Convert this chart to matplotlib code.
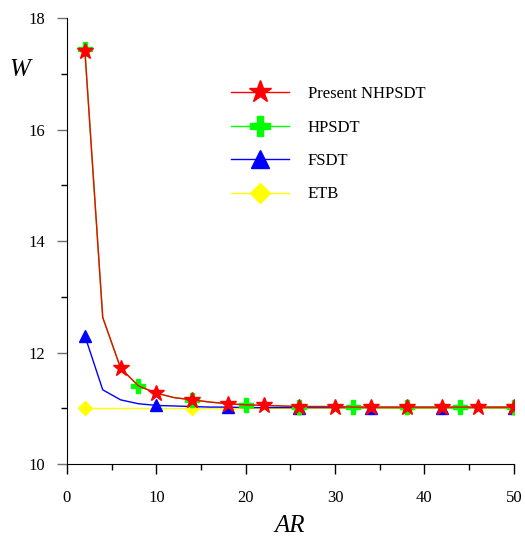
import matplotlib
matplotlib.use("Agg")
import matplotlib.pyplot as plt
from matplotlib.ticker import MultipleLocator

plt.rcParams['font.family'] = ['Liberation Serif', 'DejaVu Serif']

AR = [2, 4, 6, 8, 10, 12, 14, 16, 18, 20, 22, 24, 26, 28, 30, 32, 34, 36, 38, 40, 42, 44, 46, 48, 50]
W_nhpsdt = [17.42, 12.63, 11.72, 11.40, 11.27, 11.19, 11.15, 11.11, 11.08, 11.06, 11.05, 11.04, 11.03,
            11.03, 11.03, 11.02, 11.02, 11.02, 11.02, 11.02, 11.02, 11.02, 11.02, 11.02, 11.02]
W_hpsdt = [17.44, 12.63, 11.72, 11.40, 11.27, 11.19, 11.15, 11.11, 11.08, 11.06, 11.05, 11.04, 11.03,
           11.03, 11.03, 11.02, 11.02, 11.02, 11.02, 11.02, 11.02, 11.02, 11.02, 11.02, 11.02]
W_fsdt = [12.30, 11.33, 11.15, 11.08, 11.05, 11.04, 11.03, 11.02, 11.02, 11.01, 11.01, 11.01, 11.01,
          11.01, 11.01, 11.01, 11.01, 11.01, 11.01, 11.01, 11.01, 11.01, 11.01, 11.01, 11.01]
W_etb = [11.0] * 25
labels = ["Present NHPSDT", "HPSDT", "FSDT", "ETB"]

fig = plt.figure(figsize=(5.25, 5.36), dpi=100)
ax = fig.add_axes([0.1276, 0.1345, 0.851, 0.8314])

h_etb, = ax.plot(AR, W_etb, color='#ffff00', lw=1, marker='D', ms=7.5, markevery=6, label=labels[3], zorder=2)
h_fsdt, = ax.plot(AR, W_fsdt, color='#0000ff', lw=1, marker='^', ms=9, markevery=4, label=labels[2], zorder=3)
h_hp, = ax.plot(AR, W_hpsdt, color='#00ff00', lw=1, marker='P', ms=10, markevery=3, label=labels[1], zorder=4)
h_nh, = ax.plot(AR, W_nhpsdt, color='#ff0000', lw=1, marker='*', ms=12, markevery=2, label=labels[0], zorder=5)

ax.set_xlim(0, 50)
ax.set_ylim(10, 18)
ax.xaxis.set_major_locator(MultipleLocator(10))
ax.xaxis.set_minor_locator(MultipleLocator(5))
ax.yaxis.set_major_locator(MultipleLocator(2))
ax.yaxis.set_minor_locator(MultipleLocator(1))
for s in ['top', 'right']:
    ax.spines[s].set_visible(False)
ax.tick_params(which='major', length=7.5, width=1, labelsize=12, direction='out')
ax.tick_params(which='minor', length=4.5, width=1, direction='out')
ax.tick_params(axis='y', which='major', color='#707070', pad=8)
ax.tick_params(axis='x', which='major', pad=11)

fig.text(20/525, 1 - 70/536, 'W', fontsize=18, style='italic', ha='center', va='center')
fig.text(290/525, 1 - 526/536, 'AR', fontsize=18, style='italic', ha='center', va='center')

ax.legend(handles=[h_nh, h_hp, h_fsdt, h_etb], loc='upper left',
          bbox_to_anchor=(231/525, 1 - 86/536), bbox_transform=fig.transFigure,
          frameon=False, fontsize=12, handlelength=3.5, handletextpad=1.1,
          labelspacing=1.05, borderpad=0, borderaxespad=0, markerscale=1.4)

fig.savefig('out.png', dpi=100)
